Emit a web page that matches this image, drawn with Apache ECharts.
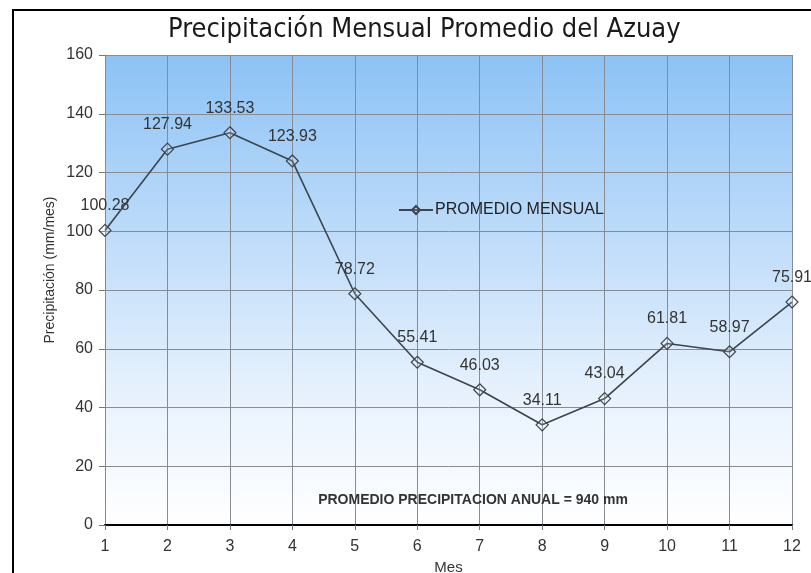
<!DOCTYPE html>
<html>
<head>
<meta charset="utf-8">
<script src="https://cdn.jsdelivr.net/npm/echarts@6/dist/echarts.min.js"></script>
<style>html,body{margin:0;padding:0;background:#fff;}#c{width:811px;height:573px;}</style>
</head>
<body>
<div id="c"></div>
<script>
var months = ['1','2','3','4','5','6','7','8','9','10','11','12'];
var promedio = [100.28, 127.94, 133.53, 123.93, 78.72, 55.41, 46.03, 34.11, 43.04, 61.81, 58.97, 75.91];
var yTicks = {min: 0, max: 160, interval: 20};
var titleText = 'Precipitación Mensual Promedio del Azuay';
var noteText = 'PROMEDIO PRECIPITACION ANUAL = 940 mm';
var seriesName = 'PROMEDIO MENSUAL';

var chart = echarts.init(document.getElementById('c'));
chart.setOption({
  animation: false,
  backgroundColor: '#ffffff',
  title: {
    text: titleText,
    left: 163, top: 11,
    textStyle: {fontFamily: '"Liberation Sans Narrow","DejaVu Sans Condensed",sans-serif', fontSize: 27, fontWeight: 'normal', color: '#1a1a1a'}
  },
  legend: {
    left: 393, top: 197,
    itemWidth: 34, itemHeight: 10, itemGap: 4,
    data: [seriesName],
    textStyle: {fontFamily: '"Liberation Sans",Arial,sans-serif', fontSize: 16, color: '#222', padding: [0, 0, 0, -3]}
  },
  grid: {
    left: 105, right: 19, top: 55, bottom: 48,
    outerBoundsMode: 'none',
    containLabel: false,
    show: true, borderWidth: 0,
    backgroundColor: new echarts.graphic.LinearGradient(0, 0, 0, 1, [
      {offset: 0, color: '#8cc2f5'},
      {offset: 0.45, color: '#c6e0fa'},
      {offset: 0.75, color: '#eaf3fd'},
      {offset: 1, color: '#ffffff'}
    ])
  },
  xAxis: {
    type: 'category',
    data: months,
    boundaryGap: false,
    name: 'Mes', nameLocation: 'middle', nameGap: 33,
    nameTextStyle: {fontFamily: '"Liberation Sans",Arial,sans-serif', fontSize: 15, color: '#333'},
    axisLine: {show: true, lineStyle: {color: '#000', width: 2}},
    axisTick: {show: true, alignWithLabel: true, length: 5, lineStyle: {color: '#777'}},
    axisLabel: {margin: 14, fontFamily: '"Liberation Sans",Arial,sans-serif', fontSize: 16, color: '#333'},
    splitLine: {show: true, interval: 0, lineStyle: {color: '#878c93', width: 1}}
  },
  yAxis: {
    type: 'value',
    min: yTicks.min, max: yTicks.max, interval: yTicks.interval,
    axisLine: {show: true, lineStyle: {color: '#888', width: 1}},
    axisTick: {show: true, length: 6, lineStyle: {color: '#777'}},
    axisLabel: {margin: 12, fontFamily: '"Liberation Sans",Arial,sans-serif', fontSize: 16, color: '#333'},
    splitLine: {show: true, lineStyle: {color: '#878c93', width: 1}}
  },
  graphic: [
    {
      type: 'rect', silent: true, z: 100,
      shape: {x: 13, y: 10, width: 900, height: 700},
      style: {fill: 'none', stroke: '#000', lineWidth: 2}
    },
    {
      type: 'text', silent: true, z: 100,
      x: 50, y: 270, rotation: Math.PI / 2,
      style: {text: 'Precipitación (mm/mes)', fontFamily: '"Liberation Sans",Arial,sans-serif', fontSize: 14, fill: '#333', align: 'center', verticalAlign: 'middle'}
    },
    {
      type: 'text', silent: true, z: 100,
      x: 473, y: 500,
      style: {text: noteText, fontFamily: '"Liberation Sans",Arial,sans-serif', fontSize: 14, fontWeight: 'bold', fill: '#333', align: 'center', verticalAlign: 'middle'}
    }
  ],
  series: [{
    name: seriesName,
    type: 'line',
    data: promedio,
    symbol: 'diamond',
    symbolSize: 12,
    lineStyle: {color: '#3c444c', width: 1.6},
    itemStyle: {color: 'rgba(255,255,255,0.15)', borderColor: '#3c444c', borderWidth: 1.2},
    label: {
      show: true, position: 'top', distance: 10,
      fontFamily: '"Liberation Sans",Arial,sans-serif', fontSize: 16, color: '#333'
    }
  }]
});
</script>
</body>
</html>
